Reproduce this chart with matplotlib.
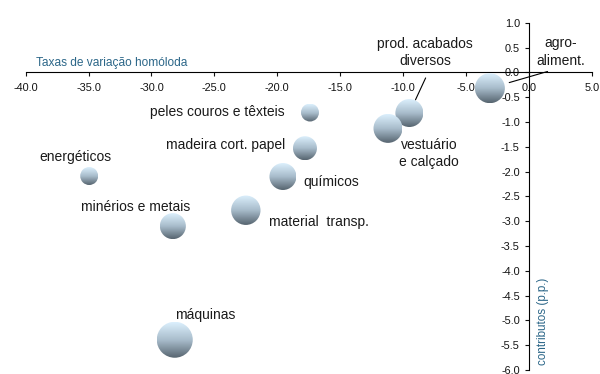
import numpy as np
import matplotlib
matplotlib.use('Agg')
import matplotlib.pyplot as plt
from matplotlib.patches import Circle
from matplotlib.transforms import Affine2D, ScaledTranslation
from matplotlib.colors import LinearSegmentedColormap

plt.rcParams['font.family'] = ['Liberation Sans', 'DejaVu Sans']

# data
sectors = ['agro-\naliment.', 'prod. acabados\ndiversos', 'vestuário\ne calçado',
           'peles couros e têxteis', 'madeira cort. papel', 'químicos',
           'material  transp.', 'energéticos', 'minérios e metais', 'máquinas']
growth = [-3.1, -9.5, -11.2, -17.4, -17.8, -19.55, -22.5, -34.95, -28.3, -28.15]   # x, %
contrib = [-0.32, -0.82, -1.13, -0.81, -1.53, -2.10, -2.78, -2.09, -3.10, -5.39]   # y, p.p.
bubble_size = [225, 196, 210, 81, 144, 182, 216, 81, 169, 324]

xticks = np.arange(-40, 5.1, 5)
yticks = np.arange(-6, 1.01, 0.5)

# label placement (offset in points, alignment)
lab_off = [(51, 26), (11.5, 43.5), (29.5, -18), (-18, 0.4), (-14.5, 2.4),
           (15, -4), (16.6, -8.4), (-10, 13.5), (-26.6, 13.5), (21.8, 17.8)]
lab_ha = ['center', 'center', 'center', 'right', 'right', 'left', 'left',
          'center', 'center', 'center']

fig = plt.figure(figsize=(6, 3.74), dpi=100)
ax = fig.add_axes([0.0428, 0.0107, 0.9435, 0.9286])

cmap = LinearSegmentedColormap.from_list('bub', ['#56646f', '#a8bccb', '#dcf0fd'])
grad = np.linspace(0, 1, 256).reshape(-1, 1)

for xi, yi, s in zip(growth, contrib, bubble_size):
    r = 0.72 * np.sqrt(s)
    tr = Affine2D().scale(fig.dpi / 72.0) + ScaledTranslation(xi, yi, ax.transData)
    circ = Circle((0, 0), r, transform=tr)
    im = ax.imshow(grad, extent=(-r, r, -r, r), origin='lower', cmap=cmap,
                   interpolation='bilinear', transform=tr, zorder=3)
    im.set_clip_path(circ)

for i, name in enumerate(sectors):
    kw = {}
    if i == 0:
        kw['arrowprops'] = dict(arrowstyle='-', color='k', lw=0.8, relpos=(0.23, -0.12),
                                shrinkA=0, shrinkB=14.5)
    if i == 1:
        kw['arrowprops'] = dict(arrowstyle='-', color='k', lw=0.8, relpos=(0.55, 0),
                                shrinkA=5.5, shrinkB=10.5)
    ax.annotate(name, xy=(growth[i], contrib[i]), xytext=lab_off[i],
                textcoords='offset points', ha=lab_ha[i], va='center',
                multialignment='center', linespacing=1.3,
                fontsize=10, color='#1a1a1a', zorder=4, **kw)

ax.set_aspect('auto')
ax.set_xlim(-40, 5)
ax.set_ylim(-6, 1)

for sp in ['top', 'right']:
    ax.spines[sp].set_visible(False)
ax.spines['left'].set_position(('data', 0))
ax.spines['bottom'].set_position(('data', 0))
for sp in ['left', 'bottom']:
    ax.spines[sp].set_linewidth(0.8)
    ax.spines[sp].set_zorder(2)

ax.set_xticks(xticks)
ax.set_xticklabels(['%.1f' % v for v in xticks])
ax.set_yticks(yticks)
ax.set_yticklabels(['%.1f' % v for v in yticks])
ax.tick_params(axis='x', direction='out', length=3, width=0.8, pad=5,
               labelsize=7.8, colors='#111111')
ax.tick_params(axis='y', direction='out', length=3, width=0.8, pad=3.5,
               labelsize=7.8, colors='#111111')
for t in ax.get_xticklabels() + ax.get_yticklabels():
    t.set_zorder(5)

fig.text(36 / 600, 1 - 63 / 374, 'Taxas de variação homóloda', fontsize=8.6,
         color='#2b6688', ha='left', va='center')
fig.text(543 / 600, 1 - 321 / 374, 'contributos (p.p.)', fontsize=8.4,
         color='#2b6688', ha='center', va='center', rotation=90)
fig.text(0.995, 1.011, '(contributos p.p.)', fontsize=13, fontweight='bold',
         color='#111111', ha='right', va='baseline')

fig.savefig('out.png', dpi=100)
